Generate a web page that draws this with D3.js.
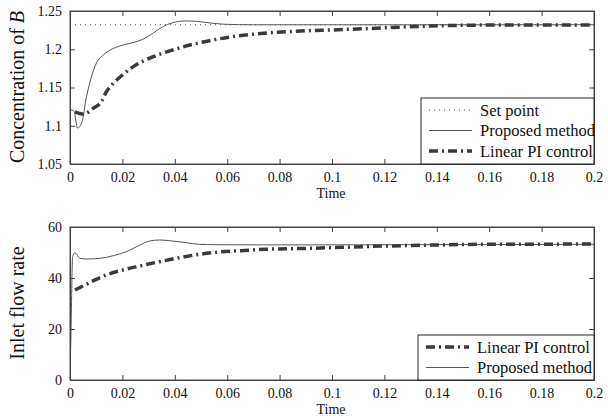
<!DOCTYPE html>
<html>
<head>
<meta charset="utf-8">
<script src="https://cdn.jsdelivr.net/npm/d3@7"></script>
<style>
  body { margin: 0; background: #fff; }
  svg { display: block; }
  svg text { font-family: "Liberation Serif", "DejaVu Serif", serif; }
</style>
</head>
<body>
<svg id="chart" width="608" height="416"></svg>
<script>
// data
var setPoint = 1.232;

var concProposed = [
  [0, 1.121], [0.0015, 1.119], [0.0029, 1.097], [0.0044, 1.103], [0.0063, 1.138],
  [0.0082, 1.164], [0.0101, 1.182], [0.0127, 1.1925], [0.0165, 1.201], [0.0203, 1.2056],
  [0.024, 1.2086], [0.0278, 1.213], [0.0316, 1.2208], [0.0354, 1.2295], [0.0392, 1.2347],
  [0.0443, 1.237], [0.048, 1.2365], [0.0544, 1.234], [0.0595, 1.2326], [0.07, 1.232],
  [0.1, 1.232], [0.15, 1.232], [0.2, 1.232]
];

var concPI = [
  [0.0019, 1.118], [0.0051, 1.115], [0.0089, 1.123], [0.012, 1.1315], [0.0139, 1.1445],
  [0.0164, 1.155], [0.02, 1.1663], [0.024, 1.177], [0.0316, 1.19], [0.0392, 1.199],
  [0.0468, 1.2064], [0.0544, 1.212], [0.062, 1.2164], [0.0696, 1.2195], [0.0785, 1.2221],
  [0.0911, 1.2243], [0.1, 1.2252], [0.119, 1.2278], [0.138, 1.2304], [0.1635, 1.2317],
  [0.2, 1.2318]
];

var flowProposed = [
  [0, 0], [0.0004, 20], [0.001, 48.4], [0.0019, 49.9], [0.0038, 47.7], [0.0063, 47.45],
  [0.0114, 47.7], [0.0165, 48.75], [0.0215, 50.3], [0.0266, 52.9], [0.0304, 54.5],
  [0.0342, 54.9], [0.0392, 54.5], [0.0443, 53.85], [0.0494, 53.2], [0.0557, 53.05],
  [0.07, 53.0], [0.1, 53.0], [0.15, 53.1], [0.2, 53.2]
];

var flowPI = [
  [0.0019, 35.3], [0.005, 36.9], [0.0089, 38.95], [0.0139, 41.2], [0.02, 43.1],
  [0.0266, 44.7], [0.0342, 46.4], [0.0418, 47.96], [0.0494, 49.3], [0.057, 50.2],
  [0.0646, 50.7], [0.0747, 51.25], [0.0899, 51.6], [0.1, 51.9], [0.119, 52.5],
  [0.138, 52.9], [0.157, 53.2], [0.2, 53.3]
];

var xTicks = [0, 0.02, 0.04, 0.06, 0.08, 0.1, 0.12, 0.14, 0.16, 0.18, 0.2];
var concTicks = [1.05, 1.1, 1.15, 1.2, 1.25];
var flowTicks = [0, 20, 40, 60];

var svg = d3.select("#chart");
var axisColor = "#444";
var serif = "'Liberation Serif', 'DejaVu Serif', serif";

var styles = {
  set:  { stroke: "#555", width: 1, dash: "1,4" },
  prop: { stroke: "#555", width: 1, dash: null },
  pi:   { stroke: "#3a3a3a", width: 3.5, dash: "9,4,2,4" }
};

function drawPanel(top, bottom, yDomain, yTicks, yFmt, series, legend, legendBox) {
  var left = 70, right = 594;
  var x = d3.scaleLinear().domain([0, 0.2]).range([left, right]);
  var y = d3.scaleLinear().domain(yDomain).range([bottom, top]);
  var g = svg.append("g");

  var clipId = "clip" + top;
  svg.append("clipPath").attr("id", clipId).append("rect")
    .attr("x", left).attr("y", top).attr("width", right - left).attr("height", bottom - top);

  var line = d3.line().x(function(d) { return x(d[0]); }).y(function(d) { return y(d[1]); })
    .curve(d3.curveMonotoneX);

  series.forEach(function(s) {
    var st = styles[s.style];
    g.append("path")
      .attr("d", line(s.data))
      .attr("clip-path", "url(#" + clipId + ")")
      .attr("fill", "none")
      .attr("stroke", st.stroke)
      .attr("stroke-width", st.width)
      .attr("stroke-dasharray", st.dash);
  });

  // axes with inward ticks on all sides
  var tl = 5;
  g.append("g").attr("transform", "translate(0," + bottom + ")")
    .call(d3.axisBottom(x).tickValues(xTicks).tickSizeInner(-tl).tickSizeOuter(0).tickPadding(8)
      .tickFormat(function(d) { return d === 0 ? "0" : d3.format("~g")(d); }));
  g.append("g").attr("transform", "translate(0," + top + ")")
    .call(d3.axisTop(x).tickValues(xTicks).tickSizeInner(-tl).tickSizeOuter(0).tickFormat(""));
  g.append("g").attr("transform", "translate(" + left + ",0)")
    .call(d3.axisLeft(y).tickValues(yTicks).tickSizeInner(-tl).tickSizeOuter(0).tickPadding(8).tickFormat(yFmt));
  g.append("g").attr("transform", "translate(" + right + ",0)")
    .call(d3.axisRight(y).tickValues(yTicks).tickSizeInner(-tl).tickSizeOuter(0).tickFormat(""));

  g.selectAll(".domain").attr("stroke", axisColor);
  g.selectAll(".tick line").attr("stroke", axisColor);
  g.selectAll("g").attr("font-family", serif);
  g.selectAll(".tick text").attr("fill", "#111").style("font-size", "14px")
    .style("font-family", serif);

  g.append("rect").attr("x", left).attr("y", top).attr("width", right - left).attr("height", bottom - top)
    .attr("fill", "none").attr("stroke", axisColor).attr("stroke-width", 1);

  g.append("text").attr("x", 331).attr("y", bottom + 33.5).attr("text-anchor", "middle")
    .style("font-size", "14px").attr("fill", "#111").text("Time");

  // legend
  var lg = g.append("g");
  lg.append("rect").attr("x", legendBox[0]).attr("y", legendBox[1])
    .attr("width", right - legendBox[0]).attr("height", bottom - legendBox[1])
    .attr("fill", "#fff").attr("stroke", "#222").attr("stroke-width", 1);
  legend.forEach(function(item, i) {
    var st = styles[item.style];
    var ly = legendBox[1] + 12 + i * 20.5;
    lg.append("line").attr("x1", legendBox[0] + 8).attr("x2", legendBox[0] + 51)
      .attr("y1", ly).attr("y2", ly)
      .attr("stroke", st.stroke).attr("stroke-width", st.width).attr("stroke-dasharray", st.dash);
    lg.append("text").attr("x", legendBox[0] + 59).attr("y", ly + 5.5)
      .style("font-size", "16.5px").attr("fill", "#111").text(item.label);
  });
  return g;
}

drawPanel(11, 164, [1.05, 1.25], concTicks, d3.format(".3~f"),
  [
    { data: [[0, setPoint], [0.2, setPoint]], style: "set" },
    { data: concProposed, style: "prop" },
    { data: concPI, style: "pi" }
  ],
  [
    { label: "Set point", style: "set" },
    { label: "Proposed method", style: "prop" },
    { label: "Linear PI control", style: "pi" }
  ],
  [421, 98]);

drawPanel(227, 380, [0, 60], flowTicks, d3.format("d"),
  [
    { data: flowProposed, style: "prop" },
    { data: flowPI, style: "pi" }
  ],
  [
    { label: "Linear PI control", style: "pi" },
    { label: "Proposed method", style: "prop" }
  ],
  [418, 335]);

// y-axis titles
var t1 = svg.append("text").attr("transform", "translate(24,87) rotate(-90)")
  .attr("text-anchor", "middle").style("font-size", "20px").attr("fill", "#111");
t1.append("tspan").text("Concentration of ");
t1.append("tspan").style("font-style", "italic").text("B");

svg.append("text").attr("transform", "translate(24,303) rotate(-90)")
  .attr("text-anchor", "middle").style("font-size", "20px").attr("fill", "#111")
  .text("Inlet flow rate");
</script>
</body>
</html>
